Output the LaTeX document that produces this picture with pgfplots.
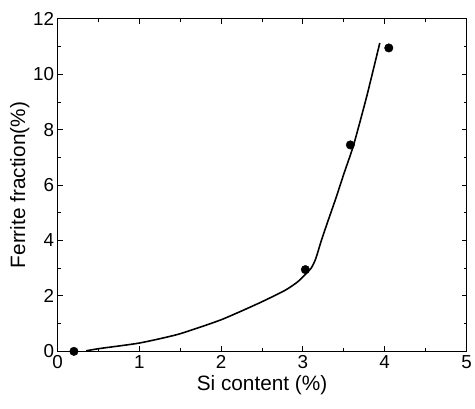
\documentclass[border=0pt]{standalone}
\usepackage{fontspec}
\setmainfont{Liberation Sans}
\usepackage{pgfplots}
\pgfplotsset{compat=1.18}

\begin{document}
\begin{tikzpicture}
\begin{axis}[
  width=412bp, height=335bp,
  scale only axis,
  xmin=0, xmax=5,
  ymin=0, ymax=12,
  xtick={0,1,2,3,4,5},
  ytick={0,2,4,6,8,10,12},
  minor xtick={0.5,1.5,2.5,3.5,4.5},
  minor ytick={1,3,5,7,9,11},
  tick align=inside,
  major tick length=5bp,
  minor tick length=3bp,
  tick style={black, line width=0.9pt},
  axis line style={line width=1pt},
  /pgf/number format/assume math mode=true,
  tick label style={font=\fontsize{19}{21}\selectfont},
  xticklabel style={yshift=-1bp},
  label style={font=\fontsize{21}{23}\selectfont},
  xlabel={Si content (\%)},
  ylabel={Ferrite fraction(\%)},
  ylabel style={yshift=-3bp},
  clip=false,
]
\addplot[black, line width=1.6pt, smooth, tension=0.35] coordinates {
  (0.35,0.02) (0.51,0.1) (1.0,0.3) (1.48,0.62) (2.0,1.14) (2.47,1.75)
  (2.78,2.2) (2.94,2.52) (3.1,3.0) (3.16,3.37) (3.22,3.95) (3.3,4.65)
  (3.4,5.5) (3.5,6.4) (3.62,7.45) (3.78,9.2) (3.94,11.13)
};
\addplot[only marks, mark=*, mark size=4.3bp, black] coordinates {
  (0.2,0) (3.03,2.95) (3.58,7.45) (4.05,10.95)
};
\end{axis}
% blank margin round the axis, as in the reference
\path ([yshift=19bp]current axis.north) ([yshift=-58bp]current axis.south)
      ([xshift=-58bp]current axis.west);
\end{tikzpicture}
\end{document}
